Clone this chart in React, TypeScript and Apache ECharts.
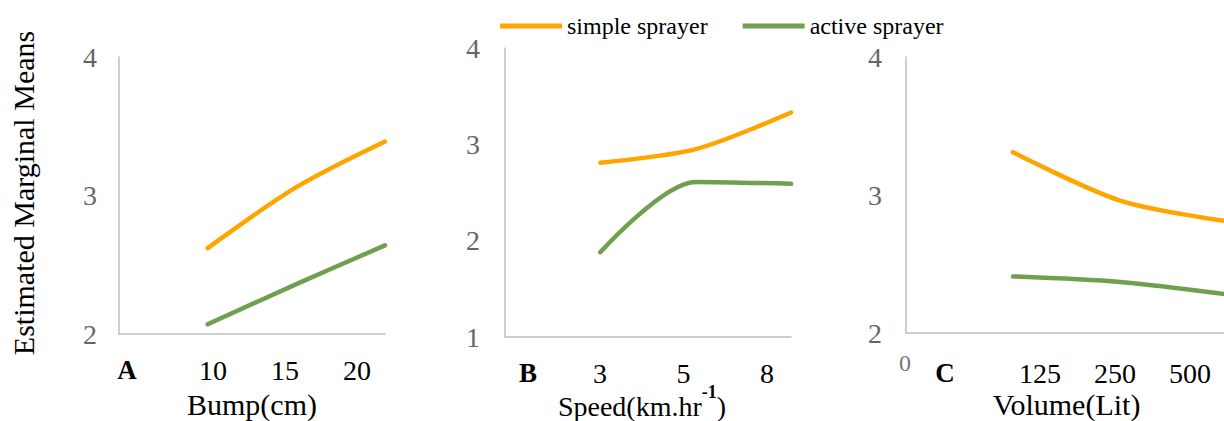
import React, { useEffect, useRef } from "react";
import * as echarts from "echarts";

const FONT = '"Liberation Serif", "Times New Roman", serif';

const seriesNames = ["simple sprayer", "active sprayer"];
const seriesColors = ["#FFA500", "#70A04F"];

const bumpTicks = ["10", "15", "20"];
const speedTicks = ["3", "5", "8"];
const volumeTicks = ["125", "250", "500"];

const bumpSimple = [2.62, 3.06, 3.39];
const bumpActive = [2.07, 2.36, 2.64];
const speedSimple = [2.81, 2.95, 3.33];
const speedActive = [1.88, 2.61, 2.59];
const volumeSimple = [3.31, 2.96, 2.81];
const volumeActive = [2.41, 2.37, 2.28];

const panelLetters = ["A", "B", "C"];
const axisNames = ["Bump(cm)", "{m|Speed(km.hr}{s|-1}{m|)}", "Volume(Lit)"];
const yRanges = [
  [2, 4],
  [1, 4],
  [2, 4],
];

export default function App() {
  const ref = useRef<HTMLDivElement>(null);

  useEffect(() => {
    if (!ref.current) return;
    const chart = echarts.init(ref.current, null, { renderer: "svg" });

    const dataGrids = [
      { left: 119, top: 57, width: 266, height: 277 },
      { left: 505, top: 48, width: 286, height: 289 },
      { left: 906, top: 57, width: 321, height: 276 },
    ];
    const labelGrids = [
      { left: 213, top: 369, width: 144, height: 1 },
      { left: 600, top: 372, width: 167, height: 1 },
      { left: 1040, top: 372, width: 150, height: 1 },
    ];
    const tickSets = [bumpTicks, speedTicks, volumeTicks];
    const simpleSets = [bumpSimple, speedSimple, volumeSimple];
    const activeSets = [bumpActive, speedActive, volumeActive];
    const nameGaps = [70, 69, 71];
    const nameSizes = [30, 28, 30];
    const namePads = [
      [0, 0, 0, 0],
      [0, 12, 0, 0],
      [0, 0, 0, 0],
    ];
    const labelMargins = [22, 25, 24];

    const grid: any[] = [...dataGrids, ...labelGrids].map((g) => ({
      ...g,
      containLabel: false,
      outerBoundsMode: "none",
    }));
    const xAxis: any[] = [];
    const yAxis: any[] = [];
    const series: any[] = [];

    dataGrids.forEach((_, i) => {
      xAxis.push({
        type: "category",
        gridIndex: i,
        boundaryGap: false,
        data: ["", ...tickSets[i]],
        axisLabel: { show: false },
        axisTick: { show: false },
        axisLine: { show: true, lineStyle: { color: "#bfbfbf", width: 1.5 } },
        splitLine: { show: false },
        name: axisNames[i],
        nameLocation: "middle",
        nameGap: nameGaps[i],
        nameTextStyle: {
          fontFamily: FONT,
          fontSize: nameSizes[i],
          color: "#000",
          verticalAlign: "middle",
          padding: namePads[i],
          rich: {
            m: { fontFamily: FONT, fontSize: 28, color: "#000", lineHeight: 30 },
            s: {
              fontFamily: FONT,
              fontSize: 18,
              fontWeight: "bold",
              color: "#000",
              lineHeight: 18,
              padding: [0, 0, 28, 0],
            },
          },
        },
      });
      yAxis.push({
        type: "value",
        gridIndex: i,
        min: yRanges[i][0],
        max: yRanges[i][1],
        interval: 1,
        axisLine: { show: true, lineStyle: { color: "#bfbfbf", width: 1.5 } },
        axisTick: { show: false },
        splitLine: { show: false },
        axisLabel: {
          fontFamily: FONT,
          fontSize: 28,
          color: "#666666",
          margin: labelMargins[i],
        },
      });
      series.push({
        type: "line",
        name: seriesNames[0],
        xAxisIndex: i,
        yAxisIndex: i,
        data: [null, ...simpleSets[i]],
        smooth: 0.3,
        showSymbol: false,
        color: seriesColors[0],
        lineStyle: { width: 4.5, color: seriesColors[0], cap: "round" },
      });
      series.push({
        type: "line",
        name: seriesNames[1],
        xAxisIndex: i,
        yAxisIndex: i,
        data: [null, ...activeSets[i]],
        smooth: 0.3,
        showSymbol: false,
        color: seriesColors[1],
        lineStyle: { width: 4.5, color: seriesColors[1], cap: "round" },
      });
    });

    labelGrids.forEach((_, j) => {
      const gi = 3 + j;
      xAxis.push({
        type: "category",
        gridIndex: gi,
        boundaryGap: false,
        data: tickSets[j],
        axisLine: { show: false },
        axisTick: { show: false },
        splitLine: { show: false },
        axisLabel: {
          fontFamily: FONT,
          fontSize: 28,
          color: "#000",
          margin: 0,
          verticalAlign: "middle",
          interval: 0,
        },
      });
      yAxis.push({ type: "value", gridIndex: gi, show: false });
    });

    const letterPos = [
      [127, 370],
      [528, 373],
      [945, 373],
    ];

    const graphic: any[] = [
      {
        type: "text",
        x: 23,
        y: 193,
        rotation: Math.PI / 2,
        style: {
          text: "Estimated Marginal Means",
          fontFamily: FONT,
          fontSize: 30,
          fill: "#000",
          align: "center",
          verticalAlign: "middle",
        },
      },
      ...panelLetters.map((t, i) => ({
        type: "text",
        x: letterPos[i][0],
        y: letterPos[i][1],
        style: {
          text: t,
          fontFamily: FONT,
          fontSize: 27,
          fontWeight: "bold",
          fill: "#000",
          align: "center",
          verticalAlign: "middle",
        },
      })),
      {
        type: "text",
        x: 905,
        y: 363,
        style: {
          text: "0",
          fontFamily: FONT,
          fontSize: 24,
          fill: "#777777",
          align: "center",
          verticalAlign: "middle",
        },
      },
    ];

    chart.setOption({
      animation: false,
      backgroundColor: "#ffffff",
      legend: {
        data: seriesNames,
        left: 495,
        top: 9,
        icon: "rect",
        itemWidth: 62,
        itemHeight: 5,
        itemGap: 35,
        textStyle: { fontFamily: FONT, fontSize: 24, color: "#000" },
      },
      grid,
      xAxis,
      yAxis,
      series,
      graphic,
    });

    return () => chart.dispose();
  }, []);

  return (
    <div
      ref={ref}
      style={{ position: "fixed", left: 0, top: 0, width: 1224, height: 421 }}
    />
  );
}
